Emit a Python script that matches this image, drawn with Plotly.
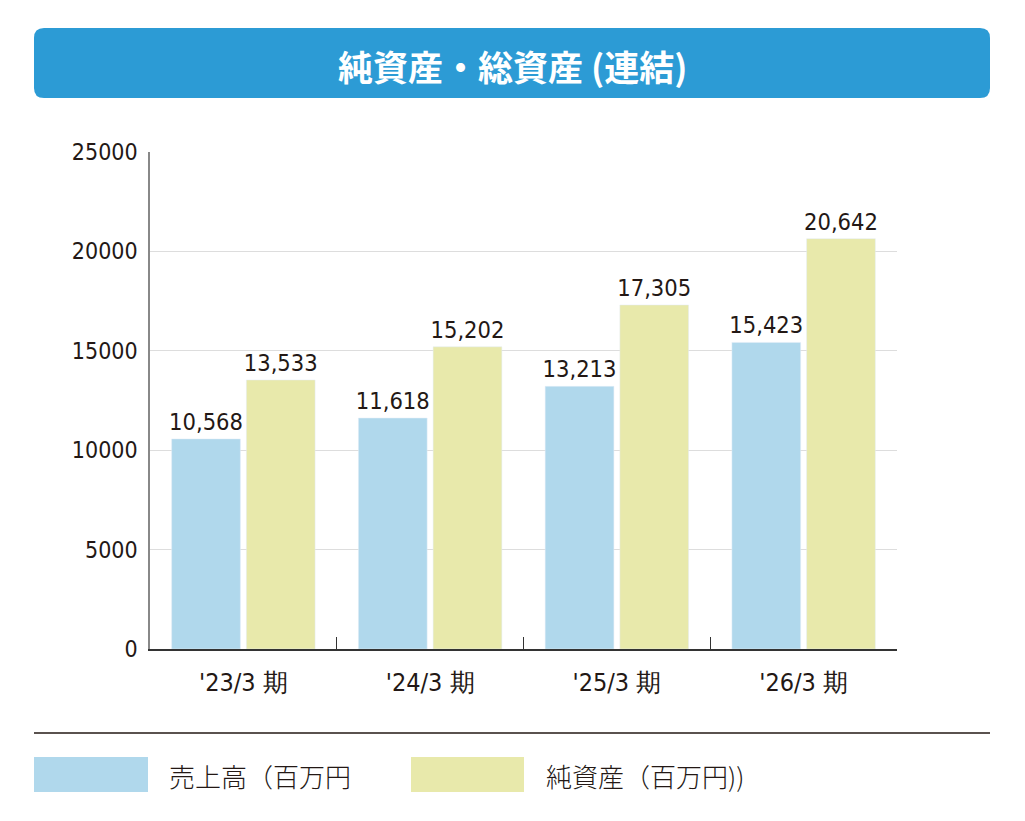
import plotly.graph_objects as go

categories = ["'23/3 期", "'24/3 期", "'25/3 期", "'26/3 期"]
sales = [10568, 11618, 13213, 15423]
net_assets = [13533, 15202, 17305, 20642]
series_names = ["売上高（百万円", "純資産（百万円))"]
title_text = "純資産・総資産 (連結)"

W, H = 1025, 821
L, R, T, B = 150, 897, 152, 649


def px(x):
    return (x - L) / (R - L)


def py(y):
    return (B - y) / (B - T)


BLUE = "#B0D8EC"
YELLOW = "#E8E9AB"
DARK = "#231815"
NUM_FONT = "DejaVu Sans Condensed, Liberation Sans Narrow, Roboto Condensed, Roboto, sans-serif"
CJK_FONT = "Noto Sans CJK JP, Noto Sans, sans-serif"

fig = go.Figure()
fig.add_trace(go.Bar(x=categories, y=sales, name=series_names[0], marker_color=BLUE,
                     texttemplate="%{y:,}", textposition="outside", constraintext="none",
                     textfont=dict(family=NUM_FONT, size=23.5, color=DARK),
                     cliponaxis=False, showlegend=False))
fig.add_trace(go.Bar(x=categories, y=net_assets, name=series_names[1], marker_color=YELLOW,
                     texttemplate="%{y:,}", textposition="outside", constraintext="none",
                     textfont=dict(family=NUM_FONT, size=23.5, color=DARK),
                     cliponaxis=False, showlegend=False))


def rounded_rect(x0, y0, x1, y1, r):
    def P(x, y):
        return f"{px(x):.5f},{py(y):.5f}"
    return (f"M {P(x0 + r, y0)} L {P(x1 - r, y0)} Q {P(x1, y0)} {P(x1, y0 + r)} "
            f"L {P(x1, y1 - r)} Q {P(x1, y1)} {P(x1 - r, y1)} "
            f"L {P(x0 + r, y1)} Q {P(x0, y1)} {P(x0, y1 - r)} "
            f"L {P(x0, y0 + r)} Q {P(x0, y0)} {P(x0 + r, y0)} Z")


shapes = [
    dict(type="path", xref="paper", yref="paper", path=rounded_rect(34, 28, 990, 98, 10),
         fillcolor="#2C9BD5", line=dict(width=0), layer="below"),
    dict(type="line", xref="paper", yref="paper", x0=px(34), x1=px(990), y0=py(733), y1=py(733),
         line=dict(color=DARK, width=1.5)),
    dict(type="rect", xref="paper", yref="paper", x0=px(34), x1=px(148), y0=py(757), y1=py(792),
         fillcolor=BLUE, line=dict(width=0)),
    dict(type="rect", xref="paper", yref="paper", x0=px(411), x1=px(524), y0=py(757), y1=py(792),
         fillcolor=YELLOW, line=dict(width=0)),
]

annotations = [
    dict(xref="paper", yref="paper", x=px(512), y=py(66), text=f"<b>{title_text}</b>",
         showarrow=False, font=dict(family=CJK_FONT, size=35, color="white"),
         xanchor="center", yanchor="middle"),
    dict(xref="paper", yref="paper", x=px(167), y=py(775), text=series_names[0],
         showarrow=False, font=dict(family=CJK_FONT, size=26, color=DARK, weight=300),
         xanchor="left", yanchor="middle"),
    dict(xref="paper", yref="paper", x=px(544), y=py(775), text=series_names[1],
         showarrow=False, font=dict(family=CJK_FONT, size=26, color=DARK, weight=300),
         xanchor="left", yanchor="middle"),
]

fig.update_layout(
    width=W, height=H,
    margin=dict(l=L, r=W - R, t=T, b=H - B, pad=0),
    paper_bgcolor="white", plot_bgcolor="white",
    barmode="group", bargap=0.2, bargroupgap=0.08,
    shapes=shapes, annotations=annotations,
    font=dict(family=NUM_FONT, color=DARK),
)
fig.update_xaxes(showline=True, linecolor="#333333", linewidth=1.5,
                 ticks="inside", tickson="boundaries", ticklen=12, tickcolor="#333333",
                 tickfont=dict(family=NUM_FONT, size=25, color=DARK),
                 showgrid=False, ticklabelstandoff=10)
fig.update_yaxes(range=[0, 25000], dtick=5000, showline=True, linecolor="#888888", linewidth=1.5,
                 showgrid=True, gridcolor="#DDDDDD", gridwidth=1, zeroline=False,
                 tickfont=dict(family=NUM_FONT, size=23, color=DARK), ticks="",
                 tickformat="d", ticklabelstandoff=6)

fig.write_html("out.html")
